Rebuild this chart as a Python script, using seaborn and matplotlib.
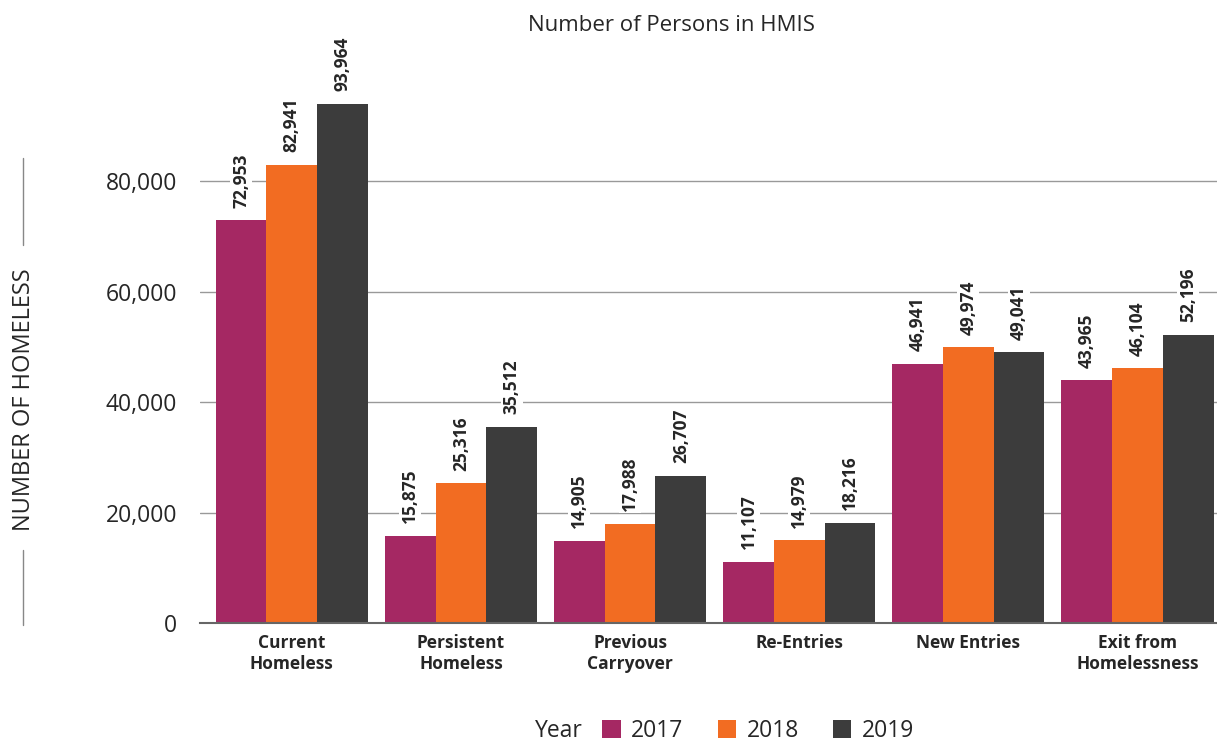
import pandas as pd
import seaborn as sns
import matplotlib.pyplot as plt
from matplotlib.lines import Line2D
from matplotlib.patches import Patch

categories = ['Current\nHomeless', 'Persistent\nHomeless', 'Previous\nCarryover',
              'Re-Entries', 'New Entries', 'Exit from\nHomelessness']
years = ['2017', '2018', '2019']
values_2017 = [72953, 15875, 14905, 11107, 46941, 43965]
values_2018 = [82941, 25316, 17988, 14979, 49974, 46104]
values_2019 = [93964, 35512, 26707, 18216, 49041, 52196]
colors = ['#A52863', '#F26C22', '#3C3C3C']

rows = []
for year, vals in zip(years, [values_2017, values_2018, values_2019]):
    for cat, v in zip(categories, vals):
        rows.append({'category': cat, 'Year': year, 'value': v})
df = pd.DataFrame(rows)

sns.set_style('white')
plt.rcParams['font.family'] = ['Open Sans', 'DejaVu Sans']

fig = plt.figure(figsize=(12.17, 7.42), dpi=100)
ax = fig.add_axes([0.164, 0.160, 0.836, 0.745])

sns.barplot(data=df, x='category', y='value', hue='Year', palette=colors,
            width=0.9, saturation=1, linewidth=0, ax=ax, legend=True)

ax.set_ylim(0, 100000)
ax.set_xlim(-0.545, 5.47)
ax.set_yticks([0, 20000, 40000, 60000, 80000])
ax.set_yticklabels(['0', '20,000', '40,000', '60,000', '80,000'], fontsize=16.5)
ax.yaxis.grid(True, color='#999999', linewidth=1)
ax.set_axisbelow(True)
ax.tick_params(axis='both', length=0)
ax.tick_params(axis='y', pad=16)
ax.tick_params(axis='x', pad=8)
for lbl in ax.get_xticklabels():
    lbl.set_fontweight('bold')
    lbl.set_fontsize(12.5)
ax.set_xlabel('')
ax.set_ylabel('')
for s in ['top', 'right', 'left']:
    ax.spines[s].set_visible(False)
ax.spines['bottom'].set_color('#666666')
ax.spines['bottom'].set_linewidth(1.5)

for cont in ax.containers:
    for bar in cont:
        h = bar.get_height()
        ax.annotate(f'{int(h):,}', (bar.get_x() + bar.get_width() / 2, h),
                    xytext=(0, 9), textcoords='offset points',
                    rotation=90, ha='center', va='bottom', fontsize=12.5,
                    fontweight='bold',
                    bbox=dict(facecolor='white', edgecolor='none', pad=1.5))

fig.text(0.552, 0.965, 'Number of Persons in HMIS', ha='center', va='center', fontsize=16)

# y label with decorative lines
fig.text(24 / 1217, 1 - 400 / 742, 'NUMBER OF HOMELESS', rotation=90,
         ha='center', va='center', fontsize=17)
fig.add_artist(Line2D([23 / 1217, 23 / 1217], [1 - 158 / 742, 1 - 245 / 742], color='#888888', lw=1))
fig.add_artist(Line2D([23 / 1217, 23 / 1217], [1 - 550 / 742, 1 - 625 / 742], color='#888888', lw=1))

ax.get_legend().remove()
fig.text(583 / 1217, 1 - 731 / 742, 'Year', ha='right', va='center', fontsize=16.5)
handles = [Patch(facecolor=c, edgecolor='none') for c in colors]
leg = fig.legend(handles, years, ncol=3, loc='center', bbox_to_anchor=(0.623, 1 - 731 / 742),
                 frameon=False, fontsize=16.5, handlelength=0.8, handleheight=0.8,
                 handletextpad=0.45, columnspacing=1.5, borderpad=0)

fig.savefig('out.png', dpi=100)
